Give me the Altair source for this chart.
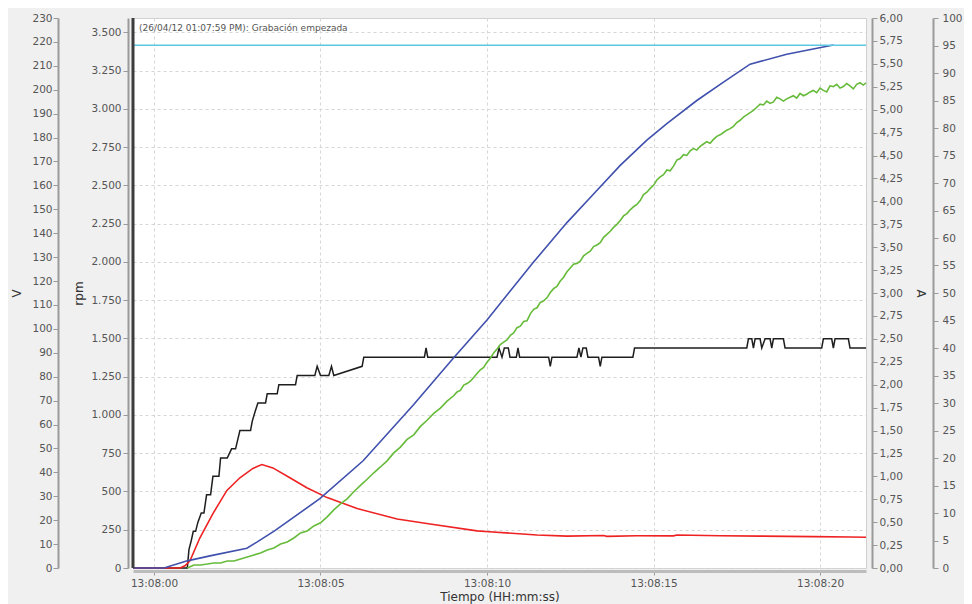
import altair as alt
import pandas as pd

# time axis: seconds after 13:08:00
T_START = -0.63
T_END = 21.38
x_ticks = [0, 5, 10, 15, 20]

# supply voltage (V, cyan)
volt_t = [-0.63, 21.38]
volt_v = [218.6, 218.6]

# measured speed (rpm, green)
speed_t = [1.0, 1.2, 1.4, 1.6, 1.8, 2.0, 2.2, 2.4, 2.6, 2.8, 3.0, 3.2, 3.4, 3.6, 3.8, 4.0,
           4.2, 4.4, 4.6, 4.8, 5.0, 5.2, 5.4, 5.6, 5.8, 6.0, 6.2, 6.4, 6.6, 6.8, 7.0, 7.2,
           7.4, 7.6, 7.8, 8.0, 8.2, 8.4, 8.6, 8.8,
           9.0, 9.1, 9.2, 9.3, 9.4, 9.5, 9.6, 9.7, 9.8, 9.9,
           10.0, 10.1, 10.2, 10.3, 10.4, 10.5, 10.6, 10.7, 10.8, 10.9,
           11.0, 11.1, 11.2, 11.3, 11.4, 11.5, 11.6, 11.7, 11.8, 11.9,
           12.0, 12.1, 12.2, 12.3, 12.4, 12.5, 12.6, 12.7, 12.8, 12.9,
           13.0, 13.1, 13.2, 13.3, 13.4, 13.5, 13.6, 13.7, 13.8, 13.9,
           14.0, 14.1, 14.2, 14.3, 14.4, 14.5, 14.6, 14.7, 14.8, 14.9,
           15.0, 15.1, 15.2, 15.3, 15.4, 15.5, 15.6, 15.7, 15.8, 15.9,
           16.0, 16.1, 16.2, 16.3, 16.4, 16.5, 16.6, 16.7, 16.8, 16.9,
           17.0, 17.1, 17.2, 17.3, 17.4, 17.5, 17.6, 17.7, 17.8, 17.9,
           18.0, 18.1, 18.2, 18.3, 18.4, 18.5, 18.6, 18.7, 18.8, 18.9,
           19.0, 19.1, 19.2, 19.3, 19.4, 19.5, 19.6, 19.7, 19.8, 19.9,
           20.0, 20.1, 20.2, 20.3, 20.4, 20.5, 20.6, 20.7, 20.8, 20.9,
           21.0, 21.1, 21.2, 21.3, 21.38]
speed_v = [0, 20, 20, 26, 33, 33, 46, 46, 59, 72, 85, 98, 118, 131, 157, 170,
           196, 229, 242, 275, 295, 334, 380, 419, 452, 498, 540, 580, 622, 660, 700, 752,
           790, 840, 870, 925, 965, 1010, 1045, 1090,
           1125, 1150, 1160, 1195, 1205, 1220, 1245, 1270, 1295, 1310,
           1345, 1370, 1405, 1430, 1460, 1475, 1490, 1520, 1535, 1570,
           1580, 1610, 1615, 1660, 1690, 1700, 1735, 1745, 1765, 1800,
           1825, 1840, 1875, 1900, 1935, 1960, 1985, 1990, 2005, 2040,
           2055, 2070, 2100, 2110, 2125, 2160, 2180, 2200, 2225, 2245,
           2270, 2300, 2315, 2340, 2360, 2375, 2400, 2440, 2455, 2480,
           2500, 2535, 2555, 2570, 2600, 2595, 2625, 2665, 2675, 2700,
           2695, 2725, 2740, 2730, 2755, 2770, 2785, 2775, 2800, 2820,
           2830, 2845, 2860, 2870, 2885, 2910, 2925, 2945, 2960, 2975,
           2990, 3010, 3030, 3025, 3050, 3035, 3045, 3075, 3065, 3050,
           3065, 3075, 3085, 3070, 3100, 3085, 3095, 3110, 3120, 3105,
           3135, 3120, 3110, 3150, 3145, 3160, 3135, 3145, 3165, 3150,
           3130, 3160, 3170, 3155, 3170]

# output reference (%, blue)
ref_t = [-0.63, 0.3, 1.0, 1.68, 2.79, 3.09, 3.63, 4.98, 6.28, 7.78, 8.98, 10.0, 11.38,
         12.4, 13.2, 14.0, 14.8, 15.4, 16.3, 17.09, 17.9, 19.0, 20.4]
ref_v = [0, 0, 1.3, 2.2, 3.6, 4.7, 6.8, 12.6, 19.5, 29.6, 38.1, 45.1, 55.5,
         62.8, 68.0, 73.2, 77.8, 80.8, 85.0, 88.3, 91.6, 93.4, 95.1]

# load (%, red)
load_t = [-0.63, 0.78, 0.93, 1.08, 1.38, 1.77, 2.19, 2.58, 2.97, 3.24, 3.57, 4.08, 4.59,
          5.2, 6.1, 7.3, 8.29, 9.7, 10.06, 11.5, 12.4, 13.5, 13.6, 14.5, 15.6, 15.7,
          17.0, 18.2, 19.8, 20.9, 21.38]
load_v = [0, 0, 0.4, 1.3, 5.5, 9.9, 14.1, 16.4, 18.1, 18.8, 18.2, 16.4, 14.6,
          12.8, 10.8, 8.9, 8.0, 6.75, 6.6, 6.0, 5.8, 5.9, 5.75, 5.85, 5.85, 6.0,
          5.85, 5.8, 5.7, 5.65, 5.6]

# current (A, black)
curr_t = [-0.63, 1.0, 1.05, 1.12, 1.18, 1.25, 1.32, 1.42, 1.5, 1.58, 1.7, 1.77, 1.95,
          2.0, 2.2, 2.33, 2.45, 2.58, 2.9, 2.95, 3.03, 3.12, 3.35, 3.4, 3.7, 3.75, 4.25,
          4.3, 4.83, 4.9, 5.0, 5.25, 5.33, 5.4, 6.25, 6.3, 8.12, 8.17, 8.22, 10.3, 10.36,
          10.45, 10.52, 10.64, 10.69, 10.88, 10.93, 10.98, 11.85, 11.9, 11.95, 12.7, 12.76,
          12.82, 12.88, 12.98, 13.03, 13.35, 13.4, 13.45, 14.38, 14.43, 17.8, 17.85, 17.95,
          18.0, 18.05, 18.2, 18.25, 18.35, 18.5, 18.55, 18.6, 18.9, 18.95, 20.05, 20.1,
          20.35, 20.4, 20.45, 20.85, 20.9, 21.38]
curr_v = [0, 0, 0.2, 0.3, 0.4, 0.4, 0.5, 0.6, 0.6, 0.8, 0.8, 1.0, 1.0,
          1.2, 1.2, 1.3, 1.3, 1.5, 1.5, 1.6, 1.7, 1.8, 1.8, 1.9, 1.9, 2.0, 2.0,
          2.1, 2.1, 2.2, 2.1, 2.1, 2.2, 2.1, 2.2, 2.3, 2.3, 2.4, 2.3, 2.3, 2.4,
          2.3, 2.4, 2.4, 2.3, 2.3, 2.4, 2.3, 2.3, 2.2, 2.3, 2.3, 2.4,
          2.3, 2.4, 2.4, 2.3, 2.3, 2.2, 2.3, 2.3, 2.4, 2.4, 2.5, 2.5,
          2.4, 2.5, 2.5, 2.4, 2.5, 2.5, 2.4, 2.5, 2.5, 2.4, 2.4, 2.5,
          2.5, 2.4, 2.5, 2.5, 2.4, 2.4]

event_t = [-0.63]
event_label = ["(26/04/12 01:07:59 PM): Grabación empezada"]

df_volt = pd.DataFrame({"t": volt_t, "v": volt_v})
df_speed = pd.DataFrame({"t": speed_t, "v": speed_v})
df_ref = pd.DataFrame({"t": ref_t, "v": ref_v})
df_load = pd.DataFrame({"t": load_t, "v": load_v})
df_curr = pd.DataFrame({"t": curr_t, "v": curr_v})
df_event = pd.DataFrame({"t": event_t, "label": event_label})

FONT = "DejaVu Sans"

x_enc = alt.X(
    "t:Q",
    scale=alt.Scale(domain=[T_START, T_END], nice=False, zero=False),
    axis=alt.Axis(
        values=x_ticks,
        labelExpr="'13:08:' + (datum.value < 10 ? '0' : '') + datum.value",
        title="Tiempo (HH:mm:ss)",
        offset=3,
        domainWidth=3,
        domainColor="#bcbcbc",
        tickSize=4,
        labelPadding=3,
        titlePadding=3,
        grid=True,
        gridDash=[3, 3],
        gridColor="#d6d6d6",
    ),
)

def line(df, color, width=1.6):
    return alt.Chart(df).mark_line(color=color, strokeWidth=width, interpolate="linear")

black = line(df_curr, "#1e1e1e", 1.5).encode(
    x=x_enc,
    y=alt.Y("v:Q", scale=alt.Scale(domain=[0, 6], nice=False),
            axis=alt.Axis(orient="right", offset=6, grid=False, title="A", titlePadding=11,
                          values=[i * 0.25 for i in range(25)],
                          labelExpr="replace(format(datum.value, '.2f'), '.', ',')")),
)

red = line(df_load, "#ee2222").encode(
    x=x_enc,
    y=alt.Y("v:Q", scale=alt.Scale(domain=[0, 100], nice=False), axis=None),
)

green = line(df_speed, "#66bb3a").encode(
    x=x_enc,
    y=alt.Y("v:Q", scale=alt.Scale(domain=[0, 3593], nice=False),
            axis=alt.Axis(orient="left", offset=5, grid=True, gridDash=[3, 3], gridColor="#d6d6d6",
                          title="rpm", titlePadding=5, values=list(range(0, 3501, 250)),
                          labelExpr="replace(format(datum.value, ','), ',', '.')")),
)

blue = line(df_ref, "#4050ad").encode(
    x=x_enc,
    y=alt.Y("v:Q", scale=alt.Scale(domain=[0, 100], nice=False), title=None,
            axis=alt.Axis(orient="right", offset=67, grid=False, labelPadding=4,
                          values=list(range(0, 101, 5)))),
)

cyan = line(df_volt, "#5cc8e2").encode(
    x=x_enc,
    y=alt.Y("v:Q", scale=alt.Scale(domain=[0, 230], nice=False),
            axis=alt.Axis(orient="left", offset=75, grid=False, title="V", titlePadding=8,
                          labelPadding=1, values=list(range(0, 231, 10)))),
)

marker = alt.Chart(df_event).mark_rule(color="#3c3c3c", strokeWidth=3).encode(x=x_enc)

note = alt.Chart(df_event).mark_text(
    align="left", baseline="middle", dx=6, fontSize=9, font=FONT, color="#555555"
).encode(x=x_enc, y=alt.value(10), text="label:N")

chart = (
    alt.layer(black, red, green, blue, cyan, marker, note)
    .resolve_scale(y="independent")
    .properties(
        width=733,
        height=550,
        autosize=alt.AutoSizeParams(type="none"),
        padding={"left": 125, "top": 10, "right": 98, "bottom": 36},
        background="#f0f0f0",
    )
    .configure_view(stroke="#d0d0d0", fill="white")
    .configure_axis(
        labelFont=FONT,
        labelFontSize=10.5,
        labelColor="#555555",
        domainColor="#9a9a9a",
        domainWidth=2,
        tickColor="#9a9a9a",
        tickSize=5,
        titleFont=FONT,
        titleFontSize=12,
        titleFontWeight="normal",
        titleColor="#333333",
    )
)

chart.save("out.html", embed_options={"renderer": "svg", "actions": False})
